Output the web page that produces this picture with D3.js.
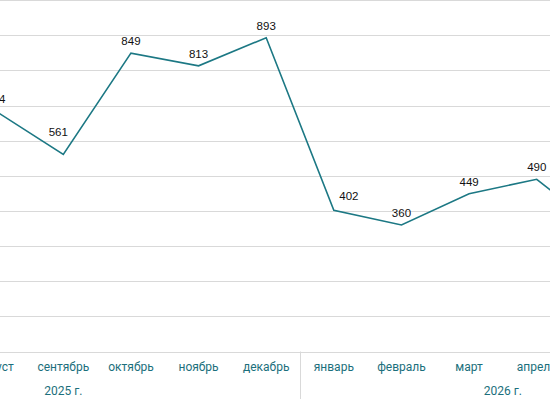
<!DOCTYPE html>
<html lang="ru">
  <head>
    <meta charset="UTF-8" />
    <title>Помесячная динамика</title>
    <script src="https://d3js.org/d3.v7.min.js"></script>
    <style>
      body {
        margin: 0;
        background: #fff;
      }
      svg {
        display: block;
      }
      .month {
        font-family: Roboto, 'Noto Sans', sans-serif;
        font-size: 12px;
        fill: #1b6f7c;
      }
      .val {
        font-family: 'Liberation Sans', Arial, sans-serif;
        font-size: 11.5px;
        fill: #111;
      }
    </style>
  </head>
  <body>
    <div id="chart"></div>
    <script>
      // месяцы июнь 2025 – июнь 2026, окно графика показывает только середину
      const months = ['июнь', 'июль', 'август', 'сентябрь', 'октябрь', 'ноябрь', 'декабрь',
        'январь', 'февраль', 'март', 'апрель', 'май', 'июнь'];
      const values = [null, null, 684, 561, 849, 813, 893, 402, 360, 449, 490, 340, null];
      const years = ['2025 г.', '2026 г.'];
      const monthsPerYear = [7, 6];
      const yMax = 1000;

      const width = 550;
      const height = 410;

      // the plot is wider than the window, so its band range runs past both edges
      const x = d3.scaleBand()
        .domain(d3.range(months.length))
        .range([-173.4, 705.8]);

      const y = d3.scaleLinear().domain([0, yMax]).range([351.5, 0.1]);

      const svg = d3.select('#chart')
        .append('svg')
        .attr('width', width)
        .attr('height', height);

      // horizontal grid
      svg.append('g')
        .selectAll('line')
        .data(y.ticks(10))
        .join('line')
        .attr('x1', 0)
        .attr('x2', width)
        .attr('y1', d => Math.round(y(d)) + 0.5)
        .attr('y2', d => Math.round(y(d)) + 0.5)
        .attr('stroke', '#d9d9d9')
        .attr('stroke-width', 1);

      // year separators
      let acc = 0;
      const bounds = [0];
      monthsPerYear.forEach(n => { acc += n; bounds.push(acc); });
      svg.append('g')
        .selectAll('line')
        .data(bounds)
        .join('line')
        .attr('x1', i => Math.round(x(0) + i * x.step()) + 0.5)
        .attr('x2', i => Math.round(x(0) + i * x.step()) + 0.5)
        .attr('y1', y(0))
        .attr('y2', 399)
        .attr('stroke', '#d9d9d9');

      // month labels
      svg.append('g')
        .selectAll('text')
        .data(months)
        .join('text')
        .attr('class', 'month')
        .attr('x', (d, i) => x(i) + x.bandwidth() / 2)
        .attr('y', 371)
        .attr('text-anchor', 'middle')
        .text(d => d);

      // year labels
      svg.append('g')
        .selectAll('text')
        .data(years)
        .join('text')
        .attr('class', 'month')
        .attr('x', (d, i) => x(0) + (bounds[i] + bounds[i + 1]) / 2 * x.step())
        .attr('y', 395)
        .attr('text-anchor', 'middle')
        .text(d => d);

      const pts = values.map((v, i) => ({ i, v }));

      const line = d3.line()
        .defined(d => d.v != null)
        .x(d => x(d.i) + x.bandwidth() / 2)
        .y(d => y(d.v));

      svg.append('path')
        .datum(pts)
        .attr('fill', 'none')
        .attr('stroke', '#1c7884')
        .attr('stroke-width', 1.6)
        .attr('stroke-linejoin', 'miter')
        .attr('d', line);

      // labels sit above the point; a couple are pushed off the line
      const nudge = { 3: [-5, -10], 7: [15, -2] };
      svg.append('g')
        .selectAll('text')
        .data(pts.filter(d => d.v != null))
        .join('text')
        .attr('class', 'val')
        .attr('x', d => x(d.i) + x.bandwidth() / 2 + (nudge[d.i] ? nudge[d.i][0] : 0))
        .attr('y', d => y(d.v) - 8 + (nudge[d.i] ? nudge[d.i][1] : 0))
        .attr('text-anchor', 'middle')
        .text(d => d.v);
    </script>
  </body>
</html>
